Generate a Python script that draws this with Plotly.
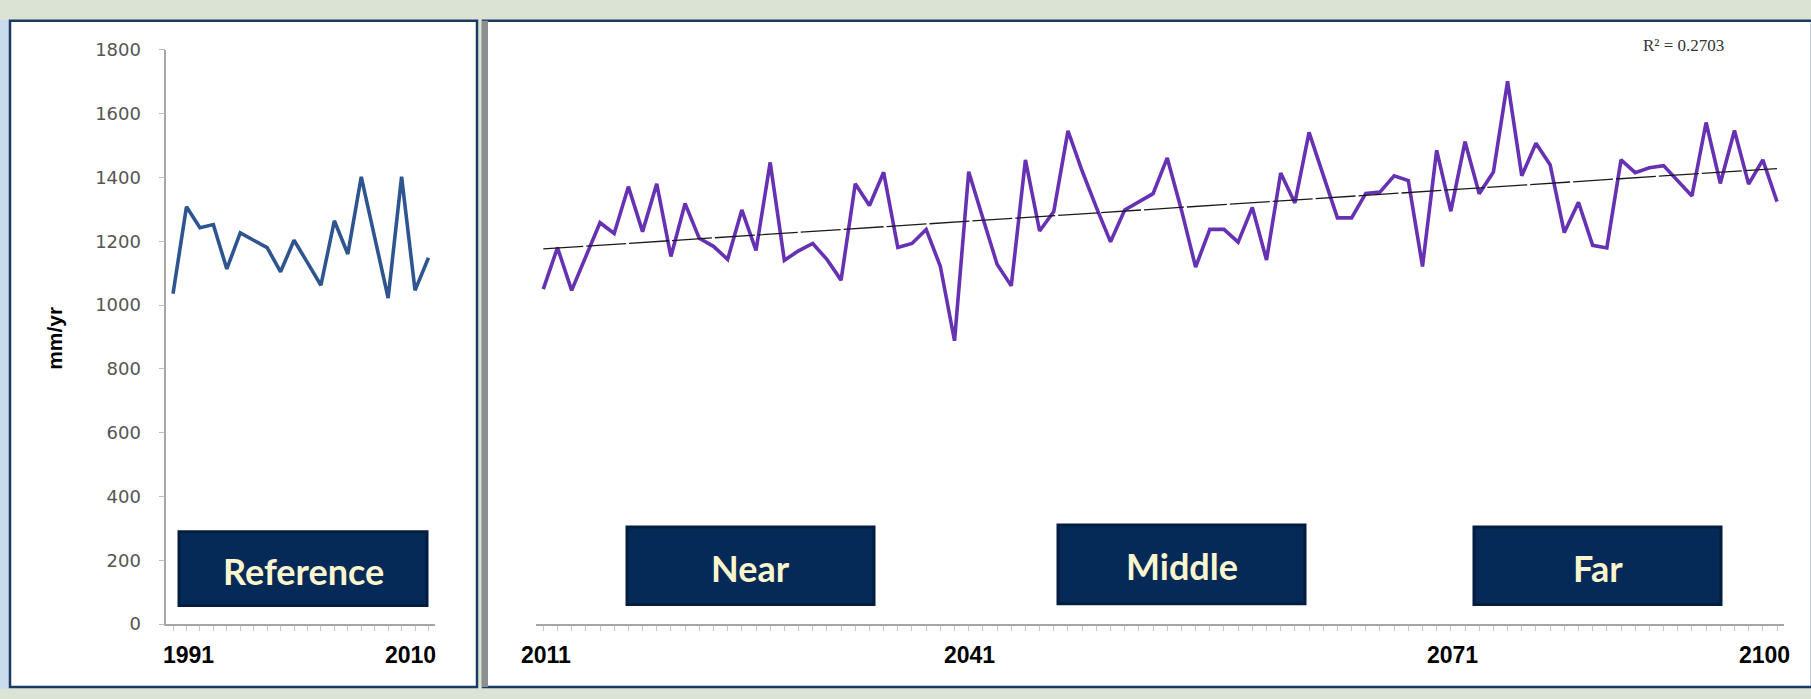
import numpy as np
import plotly.graph_objects as go

W, H = 1811, 699

# ---------------- data ----------------
ref_years = list(range(1991, 2011))
ref_values = [1035, 1308, 1242, 1252, 1113, 1226, 1203, 1180, 1104, 1203,
              1133, 1062, 1264, 1160, 1402, 1215, 1022, 1402, 1046, 1148]

fut_years = list(range(2011, 2099))
fut_values = [1050, 1180, 1046, 1152, 1258, 1224, 1371, 1230, 1380, 1152,
              1318, 1209, 1184, 1143, 1298, 1171, 1447, 1140, 1170, 1193,
              1143, 1078, 1380, 1312, 1416, 1180, 1193, 1237, 1121, 888,
              1418, 1272, 1128, 1060, 1455, 1232, 1293, 1546, 1420, 1306,
              1198, 1298, 1325, 1349, 1461, 1298, 1119, 1237, 1237, 1197,
              1306, 1141, 1414, 1320, 1541, 1405, 1273, 1273, 1350, 1354,
              1405, 1390, 1121, 1485, 1294, 1512, 1349, 1417, 1701, 1405,
              1507, 1440, 1227, 1322, 1187, 1179, 1455, 1415, 1430, 1437,
              1389, 1342, 1572, 1381, 1547, 1379, 1455, 1324]

y_ticks = [0, 200, 400, 600, 800, 1000, 1200, 1400, 1600, 1800]
period_labels = ["Reference", "Near", "Middle", "Far"]
year_labels = ["1991", "2010", "2011", "2041", "2071", "2100"]
r2_text = "R² = 0.2703"

# linear trend of the future series
coef = np.polyfit(fut_years, fut_values, 1)
trend = np.polyval(coef, fut_years)

def px(x):
    return x / W

def py(y):
    return 1 - y / H

fig = go.Figure()

fig.add_trace(go.Scatter(x=ref_years, y=ref_values, mode="lines",
                         line=dict(color="#2f5591", width=3.6),
                         xaxis="x", yaxis="y", showlegend=False))
fig.add_trace(go.Scatter(x=fut_years, y=fut_values, mode="lines",
                         line=dict(color="#6632b3", width=3.6),
                         xaxis="x2", yaxis="y2", showlegend=False))
fig.add_trace(go.Scatter(x=fut_years, y=trend, mode="lines",
                         line=dict(color="#1a1a1a", width=1.3, dash="40px,3px"),
                         xaxis="x2", yaxis="y2", showlegend=False))

ydom = [py(632), py(40)]
axis_gray = "#a6a6a6"

fig.update_layout(
    width=W, height=H,
    margin=dict(l=0, r=0, t=0, b=0),
    paper_bgcolor="#dbe3d5",
    plot_bgcolor="rgba(0,0,0,0)",
    xaxis=dict(domain=[px(166.3), px(435.2)], range=[1990.5, 2010.5],
               showgrid=False, zeroline=False, showline=True, linecolor=axis_gray,
               linewidth=1.5, ticks="outside", tickcolor="#c8c8c8", ticklen=5,
               dtick=1, tick0=1991, showticklabels=False, anchor="y"),
    yaxis=dict(domain=ydom, range=[0, 1800], tickvals=y_ticks,
               showgrid=False, zeroline=False, showline=True, linecolor=axis_gray,
               linewidth=1.5, ticks="outside", tickcolor="#bdbdbd", ticklen=6,
               ticklabelstandoff=14,
               tickfont=dict(family="DejaVu Sans", size=18, color="#555555"),
               anchor="x"),
    xaxis2=dict(domain=[px(536.2), px(1784.1)], range=[2010.5, 2098.5],
                showgrid=False, zeroline=False, showline=True, linecolor=axis_gray,
                linewidth=1.5, ticks="outside", tickcolor="#c8c8c8", ticklen=5,
                dtick=1, tick0=2011, showticklabels=False, anchor="y2"),
    yaxis2=dict(domain=ydom, range=[0, 1800], visible=False, anchor="x2"),
)

shapes = [
    # left light-blue strip of the background
    dict(type="rect", xref="paper", yref="paper", x0=0, x1=px(9), y0=0, y1=py(9),
         fillcolor="#c9dcec", line=dict(width=0), layer="below"),
    # left panel
    dict(type="rect", xref="paper", yref="paper", x0=px(10), x1=px(477), y0=py(697), y1=py(10),
         fillcolor="white", line=dict(color="#1c3a66", width=2.5), layer="below"),
    # right panel
    dict(type="rect", xref="paper", yref="paper", x0=px(483), x1=px(1812), y0=py(697), y1=py(10),
         fillcolor="white", line=dict(color="#1c3a66", width=2.5), layer="below"),
    dict(type="rect", xref="paper", yref="paper", x0=px(482), x1=px(488), y0=py(697), y1=py(10),
         fillcolor="#8e8e8e", line=dict(width=0), layer="below"),
]

boxes = [(179, 427, 537, 613), (627, 874, 532, 612), (1058, 1305, 530, 611), (1474, 1721, 532, 612)]
for (x0, x1, y0, y1) in boxes:
    shapes.append(dict(type="rect", xref="paper", yref="paper", x0=px(x0), x1=px(x1),
                       y0=py(y1), y1=py(y0), fillcolor="#062a57",
                       line=dict(color="#021d3f", width=3), layer="above"))
fig.update_layout(shapes=shapes)

annotations = []
for label, (x0, x1, y0, y1) in zip(period_labels, boxes):
    annotations.append(dict(xref="paper", yref="paper", x=px((x0 + x1) / 2), y=py((y0 + y1) / 2 + 2),
                            text=label, showarrow=False, xanchor="center", yanchor="middle",
                            font=dict(family="Lato", size=36, color="#fcf6cf", weight="bold")))

label_x = [188, 410, 546, 970, 1452, 1764]
for lab, lx in zip(year_labels, label_x):
    annotations.append(dict(xref="paper", yref="paper", x=px(lx), y=py(664),
                            text=lab, showarrow=False, xanchor="center", yanchor="middle",
                            font=dict(family="Liberation Sans", size=23, color="#000000", weight="bold")))

annotations.append(dict(xref="paper", yref="paper", x=px(55), y=py(338), text="mm/yr",
                        textangle=-90, showarrow=False, xanchor="center", yanchor="middle",
                        font=dict(family="Liberation Sans", size=21, color="#000000", weight="bold")))
annotations.append(dict(xref="paper", yref="paper", x=px(1683), y=py(36), text=r2_text,
                        showarrow=False, xanchor="center", yanchor="middle",
                        font=dict(family="Liberation Serif", size=17, color="#333333")))
fig.update_layout(annotations=annotations)

fig.write_html("out.html")
